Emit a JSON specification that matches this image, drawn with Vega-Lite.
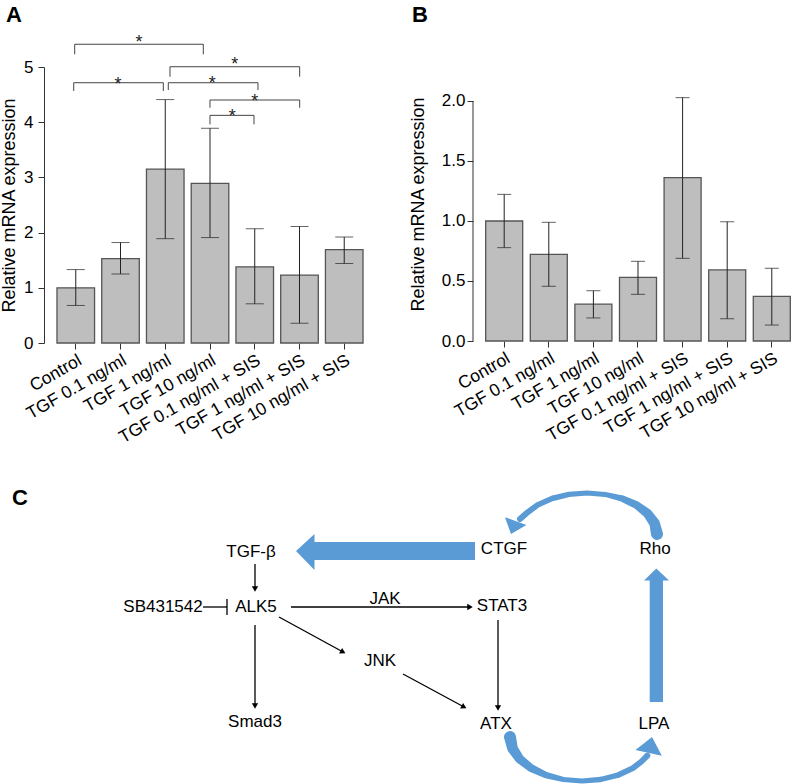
{
  "$schema": "https://vega.github.io/schema/vega-lite/v6.json",
  "padding": {"left": 0, "top": 3, "right": 0, "bottom": 0},
  "background": "white",
  "config": {
    "font": "Liberation Sans",
    "view": {"stroke": null},
    "axis": {"labelColor": "#000", "titleColor": "#000", "domainColor": "#333", "tickColor": "#333", "grid": false, "titleFontWeight": "normal", "labelFont": "Liberation Sans", "titleFont": "Liberation Sans"}
  },
  "datasets": {
    "a": [
      {"c": "Control", "m": 1.0, "lo": 0.68, "hi": 1.33},
      {"c": "TGF 0.1 ng/ml", "m": 1.53, "lo": 1.25, "hi": 1.82},
      {"c": "TGF 1 ng/ml", "m": 3.15, "lo": 1.89, "hi": 4.41},
      {"c": "TGF 10 ng/ml", "m": 2.89, "lo": 1.91, "hi": 3.89},
      {"c": "TGF 0.1 ng/ml + SIS", "m": 1.38, "lo": 0.71, "hi": 2.07},
      {"c": "TGF 1 ng/ml + SIS", "m": 1.23, "lo": 0.36, "hi": 2.11},
      {"c": "TGF 10 ng/ml + SIS", "m": 1.69, "lo": 1.44, "hi": 1.92}
    ],
    "b": [
      {"c": "Control", "m": 1.0, "lo": 0.778, "hi": 1.222},
      {"c": "TGF 0.1 ng/ml", "m": 0.722, "lo": 0.456, "hi": 0.989},
      {"c": "TGF 1 ng/ml", "m": 0.308, "lo": 0.192, "hi": 0.419},
      {"c": "TGF 10 ng/ml", "m": 0.531, "lo": 0.389, "hi": 0.664},
      {"c": "TGF 0.1 ng/ml + SIS", "m": 1.361, "lo": 0.689, "hi": 2.028},
      {"c": "TGF 1 ng/ml + SIS", "m": 0.592, "lo": 0.186, "hi": 0.994},
      {"c": "TGF 10 ng/ml + SIS", "m": 0.372, "lo": 0.133, "hi": 0.606}
    ],
    "brk": [
      {"x1": 0.976, "x2": 3.851, "y": 5.412, "leg": 5.23, "sx": 2.413, "sy": 5.52},
      {"x1": 0.954, "x2": 2.957, "y": 4.715, "leg": 4.565, "sx": 1.944, "sy": 4.764},
      {"x1": 3.068, "x2": 5.073, "y": 4.715, "leg": 4.583, "sx": 4.052, "sy": 4.777},
      {"x1": 3.106, "x2": 6.005, "y": 5.005, "leg": 4.824, "sx": 4.552, "sy": 5.122},
      {"x1": 4.0, "x2": 6.005, "y": 4.402, "leg": 4.262, "sx": 4.999, "sy": 4.461},
      {"x1": 4.0, "x2": 4.984, "y": 4.124, "leg": 3.961, "sx": 4.499, "sy": 4.189}
    ],
    "cText": [
      {"t": "TGF-β", "x": 252, "y": 550},
      {"t": "CTGF", "x": 505, "y": 547},
      {"t": "Rho", "x": 656, "y": 547},
      {"t": "SB431542", "x": 164, "y": 605},
      {"t": "ALK5", "x": 257, "y": 605},
      {"t": "JAK", "x": 386, "y": 597},
      {"t": "STAT3", "x": 503, "y": 604},
      {"t": "JNK", "x": 381, "y": 659},
      {"t": "Smad3", "x": 256, "y": 720},
      {"t": "ATX", "x": 497, "y": 722},
      {"t": "LPA", "x": 655, "y": 722}
    ],
    "cLines": [
      {"x": 256, "y": 562, "x2": 256, "y2": 588},
      {"x": 292, "y": 605, "x2": 472, "y2": 605},
      {"x": 280, "y": 615, "x2": 345, "y2": 650.5},
      {"x": 404, "y": 672, "x2": 466, "y2": 705.5},
      {"x": 256, "y": 623, "x2": 256, "y2": 705},
      {"x": 499, "y": 618, "x2": 499, "y2": 707},
      {"x": 204, "y": 605, "x2": 228, "y2": 605},
      {"x": 228, "y": 597, "x2": 228, "y2": 613}
    ],
    "cHeads": [
      {"x": 256, "y": 587, "a": 180},
      {"x": 471, "y": 605, "a": 90},
      {"x": 344, "y": 650, "a": 119},
      {"x": 465, "y": 705, "a": 118},
      {"x": 256, "y": 704, "a": 180},
      {"x": 499, "y": 706, "a": 180}
    ],
    "cRects": [
      {"x": 315, "x2": 476, "y": 540, "y2": 558},
      {"x": 650.7, "x2": 664, "y": 578, "y2": 700}
    ],
    "cHeadL": [
      {"x": 297, "y": 549, "y2": 549},
      {"x": 315.5, "y": 532, "y2": 568}
    ],
    "cHeadU": [
      {"y": 566.5, "x": 657.3, "x2": 657.3},
      {"y": 578.5, "x": 645, "x2": 670}
    ],
    "cArcs": [
      {"arc": "top", "t": 0, "x": 658.0, "y": 532.0},
      {"arc": "top", "t": 0.1, "x": 655.6, "y": 521.4},
      {"arc": "top", "t": 0.2, "x": 648.6, "y": 511.5},
      {"arc": "top", "t": 0.3, "x": 637.5, "y": 503.0},
      {"arc": "top", "t": 0.4, "x": 623.0, "y": 496.5},
      {"arc": "top", "t": 0.5, "x": 606.1, "y": 492.4},
      {"arc": "top", "t": 0.59, "x": 588.0, "y": 491.0},
      {"arc": "top", "t": 0.68, "x": 569.9, "y": 492.4},
      {"arc": "top", "t": 0.78, "x": 553.0, "y": 496.5},
      {"arc": "top", "t": 0.87, "x": 538.5, "y": 503.0},
      {"arc": "top", "t": 0.94, "x": 528.6, "y": 510.3},
      {"arc": "top", "t": 1.0, "x": 521.0, "y": 517.0},
      {"arc": "bot", "t": 0, "x": 511.0, "y": 735.0},
      {"arc": "bot", "t": 0.1, "x": 513.5, "y": 746.4},
      {"arc": "bot", "t": 0.2, "x": 520.6, "y": 757.0},
      {"arc": "bot", "t": 0.3, "x": 532.1, "y": 766.1},
      {"arc": "bot", "t": 0.4, "x": 547.0, "y": 773.1},
      {"arc": "bot", "t": 0.5, "x": 564.4, "y": 777.5},
      {"arc": "bot", "t": 0.6, "x": 583.0, "y": 779.0},
      {"arc": "bot", "t": 0.7, "x": 601.6, "y": 777.5},
      {"arc": "bot", "t": 0.8, "x": 619.0, "y": 773.1},
      {"arc": "bot", "t": 0.9, "x": 633.9, "y": 766.1},
      {"arc": "bot", "t": 0.96, "x": 642.5, "y": 759.5},
      {"arc": "bot", "t": 1.0, "x": 648.3, "y": 753.6}
    ],
    "cArcHeads": [
      {"arc": "top", "x": 515.9, "y": 521.3, "a": 200},
      {"arc": "bot", "x": 650.2, "y": 748.2, "a": 12}
    ]
  },
  "vconcat": [
    {
      "hconcat": [
        {
          "width": 332,
          "height": 276,
          "layer": [
            {
              "data": {"name": "a"},
              "layer": [
                {
                  "mark": {"type": "bar", "fill": "#bebebe", "stroke": "#555", "strokeWidth": 1.3},
                  "encoding": {
                    "x": {"field": "c", "type": "nominal", "sort": null, "scale": {"paddingInner": 0.16, "paddingOuter": 0.29},
                      "axis": {"title": null, "domain": false, "labelAngle": -30, "labelFontSize": 17.5, "tickSize": 6, "labelPadding": 2}},
                    "y": {"field": "m", "type": "quantitative", "scale": {"domain": [0, 5], "nice": false}, "title": "Relative mRNA expression",
                      "axis": {"values": [0, 1, 2, 3, 4, 5], "tickSize": 6, "labelFontSize": 17, "titleFontSize": 18, "labelPadding": 5, "titlePadding": 5}}
                  }
                },
                {
                  "mark": {"type": "rule", "color": "#222", "strokeWidth": 1},
                  "encoding": {
                    "x": {"field": "c", "type": "nominal", "sort": null},
                    "y": {"field": "lo", "type": "quantitative", "scale": {"domain": [0, 5], "nice": false}, "title": "Relative mRNA expression"},
                    "y2": {"field": "hi"}
                  }
                },
                {
                  "mark": {"type": "tick", "color": "#222", "thickness": 1, "size": 18},
                  "encoding": {
                    "x": {"field": "c", "type": "nominal", "sort": null},
                    "y": {"field": "lo", "type": "quantitative", "scale": {"domain": [0, 5], "nice": false}, "title": "Relative mRNA expression"}
                  }
                },
                {
                  "mark": {"type": "tick", "color": "#222", "thickness": 1, "size": 18},
                  "encoding": {
                    "x": {"field": "c", "type": "nominal", "sort": null},
                    "y": {"field": "hi", "type": "quantitative", "scale": {"domain": [0, 5], "nice": false}, "title": "Relative mRNA expression"}
                  }
                }
              ]
            },
            {
              "layer": [
                {
                  "data": {"name": "brk"},
                  "mark": {"type": "rule", "color": "#444", "strokeWidth": 1},
                  "encoding": {
                    "x": {"field": "x1", "type": "quantitative", "scale": {"domain": [0.29, 7.711], "nice": false, "zero": false}, "axis": null},
                    "x2": {"field": "x2"},
                    "y": {"field": "y", "type": "quantitative", "scale": {"domain": [0, 5], "nice": false}, "title": "Relative mRNA expression"}
                  }
                },
                {
                  "data": {"name": "brk"},
                  "mark": {"type": "rule", "color": "#444", "strokeWidth": 1},
                  "encoding": {
                    "x": {"field": "x1", "type": "quantitative", "scale": {"domain": [0.29, 7.711], "nice": false, "zero": false}, "axis": null},
                    "y": {"field": "leg", "type": "quantitative", "scale": {"domain": [0, 5], "nice": false}, "title": "Relative mRNA expression"},
                    "y2": {"field": "y"}
                  }
                },
                {
                  "data": {"name": "brk"},
                  "mark": {"type": "rule", "color": "#444", "strokeWidth": 1},
                  "encoding": {
                    "x": {"field": "x2", "type": "quantitative", "scale": {"domain": [0.29, 7.711], "nice": false, "zero": false}, "axis": null},
                    "y": {"field": "leg", "type": "quantitative", "scale": {"domain": [0, 5], "nice": false}, "title": "Relative mRNA expression"},
                    "y2": {"field": "y"}
                  }
                },
                {
                  "data": {"name": "brk"},
                  "mark": {"type": "text", "text": "*", "fontSize": 18, "baseline": "alphabetic", "dy": 10, "color": "#222"},
                  "encoding": {
                    "x": {"field": "sx", "type": "quantitative", "scale": {"domain": [0.29, 7.711], "nice": false, "zero": false}, "axis": null},
                    "y": {"field": "sy", "type": "quantitative", "scale": {"domain": [0, 5], "nice": false}, "title": "Relative mRNA expression"}
                  }
                },
                {
                  "data": {"values": [{"t": "A", "x": -0.559, "y": 5.82}]},
                  "mark": {"type": "text", "fontSize": 22, "fontWeight": "bold", "align": "left", "baseline": "alphabetic", "color": "#000"},
                  "encoding": {
                    "text": {"field": "t"},
                    "x": {"field": "x", "type": "quantitative", "scale": {"domain": [0.29, 7.711], "nice": false, "zero": false}, "axis": null},
                    "y": {"field": "y", "type": "quantitative", "scale": {"domain": [0, 5], "nice": false}, "title": "Relative mRNA expression"}
                  }
                }
              ]
            }
          ],
          "resolve": {"scale": {"x": "independent"}}
        },
        {
          "width": 318,
          "height": 274,
          "layer": [
            {
              "data": {"name": "b"},
              "layer": [
                {
                  "mark": {"type": "bar", "fill": "#bebebe", "stroke": "#555", "strokeWidth": 1.3},
                  "encoding": {
                    "x": {"field": "c", "type": "nominal", "sort": null, "scale": {"paddingInner": 0.17, "paddingOuter": 0.15, "align": 0.948},
                      "axis": {"title": null, "domain": false, "labelAngle": -30, "labelFontSize": 17.5, "tickSize": 6, "labelPadding": 2}},
                    "y": {"field": "m", "type": "quantitative", "scale": {"domain": [0, 2.2833], "nice": false}, "title": "Relative mRNA expression",
                      "axis": {"values": [0, 0.5, 1, 1.5, 2], "format": ".1f", "domain": false, "tickSize": 6, "labelFontSize": 17, "titleFontSize": 18, "labelPadding": 2, "titlePadding": 14}}
                  }
                },
                {
                  "mark": {"type": "rule", "color": "#222", "strokeWidth": 1},
                  "encoding": {
                    "x": {"field": "c", "type": "nominal", "sort": null},
                    "y": {"field": "lo", "type": "quantitative", "scale": {"domain": [0, 2.2833], "nice": false}, "title": "Relative mRNA expression"},
                    "y2": {"field": "hi"}
                  }
                },
                {
                  "mark": {"type": "tick", "color": "#222", "thickness": 1, "size": 14},
                  "encoding": {
                    "x": {"field": "c", "type": "nominal", "sort": null},
                    "y": {"field": "lo", "type": "quantitative", "scale": {"domain": [0, 2.2833], "nice": false}, "title": "Relative mRNA expression"}
                  }
                },
                {
                  "mark": {"type": "tick", "color": "#222", "thickness": 1, "size": 14},
                  "encoding": {
                    "x": {"field": "c", "type": "nominal", "sort": null},
                    "y": {"field": "hi", "type": "quantitative", "scale": {"domain": [0, 2.2833], "nice": false}, "title": "Relative mRNA expression"}
                  }
                }
              ]
            },
            {
              "layer": [
                {
                  "data": {"values": [{"x": 0, "y0": 0, "y1": 2}]},
                  "mark": {"type": "rule", "color": "#333", "strokeWidth": 1},
                  "encoding": {
                    "x": {"field": "x", "type": "quantitative", "scale": {"domain": [0, 1], "nice": false, "zero": false}, "axis": null},
                    "y": {"field": "y0", "type": "quantitative", "scale": {"domain": [0, 2.2833], "nice": false}, "title": "Relative mRNA expression"},
                    "y2": {"field": "y1"}
                  }
                },
                {
                  "data": {"values": [{"t": "B", "x": -0.192, "y": 2.661}]},
                  "mark": {"type": "text", "fontSize": 22, "fontWeight": "bold", "align": "left", "baseline": "alphabetic", "color": "#000"},
                  "encoding": {
                    "text": {"field": "t"},
                    "x": {"field": "x", "type": "quantitative", "scale": {"domain": [0, 1], "nice": false, "zero": false}, "axis": null},
                    "y": {"field": "y", "type": "quantitative", "scale": {"domain": [0, 2.2833], "nice": false}, "title": "Relative mRNA expression"}
                  }
                }
              ]
            }
          ],
          "resolve": {"scale": {"x": "independent"}}
        }
      ],
      "spacing": 33
    },
    {
      "width": 752,
      "height": 314,
      "layer": [
        {
          "data": {"name": "cRects"},
          "mark": {"type": "rect", "color": "#5b9bd5"},
          "encoding": {
            "x": {"field": "x", "type": "quantitative", "scale": {"domain": [45, 797], "nice": false, "zero": false}, "axis": null},
            "x2": {"field": "x2"},
            "y": {"field": "y", "type": "quantitative", "scale": {"domain": [470, 784], "nice": false, "zero": false, "reverse": true}, "axis": null},
            "y2": {"field": "y2"}
          }
        },
        {
          "data": {"name": "cHeadL"},
          "mark": {"type": "area", "color": "#5b9bd5", "orient": "vertical"},
          "encoding": {
            "x": {"field": "x", "type": "quantitative", "scale": {"domain": [45, 797], "nice": false, "zero": false}, "axis": null},
            "y": {"field": "y", "type": "quantitative", "scale": {"domain": [470, 784], "nice": false, "zero": false, "reverse": true}, "axis": null},
            "y2": {"field": "y2"}
          }
        },
        {
          "data": {"name": "cHeadU"},
          "mark": {"type": "area", "color": "#5b9bd5", "orient": "horizontal"},
          "encoding": {
            "y": {"field": "y", "type": "quantitative", "scale": {"domain": [470, 784], "nice": false, "zero": false, "reverse": true}, "axis": null},
            "x": {"field": "x", "type": "quantitative", "scale": {"domain": [45, 797], "nice": false, "zero": false}, "axis": null},
            "x2": {"field": "x2"}
          }
        },
        {
          "data": {"name": "cArcs"},
          "mark": {"type": "trail", "color": "#5b9bd5"},
          "encoding": {
            "x": {"field": "x", "type": "quantitative", "scale": {"domain": [45, 797], "nice": false, "zero": false}, "axis": null},
            "y": {"field": "y", "type": "quantitative", "scale": {"domain": [470, 784], "nice": false, "zero": false, "reverse": true}, "axis": null},
            "detail": {"field": "arc"},
            "order": {"field": "t"},
            "size": {"field": "t", "type": "quantitative", "scale": {"domain": [0, 0.5, 1], "range": [12, 5, 6]}, "legend": null}
          }
        },
        {
          "data": {"name": "cArcHeads"},
          "transform": [{"filter": "datum.arc === 'top'"}],
          "mark": {"type": "point", "filled": true, "shape": "M0,-1L1,0.2L-1,0.2Z", "size": 520, "color": "#5b9bd5", "opacity": 1},
          "encoding": {
            "x": {"field": "x", "type": "quantitative", "scale": {"domain": [45, 797], "nice": false, "zero": false}, "axis": null},
            "y": {"field": "y", "type": "quantitative", "scale": {"domain": [470, 784], "nice": false, "zero": false, "reverse": true}, "axis": null},
            "angle": {"field": "a", "type": "quantitative", "scale": null}
          }
        },
        {
          "data": {"name": "cArcHeads"},
          "transform": [{"filter": "datum.arc === 'bot'"}],
          "mark": {"type": "point", "filled": true, "shape": "M0,-1L1,0.2L-1,0.2Z", "size": 729, "color": "#5b9bd5", "opacity": 1},
          "encoding": {
            "x": {"field": "x", "type": "quantitative", "scale": {"domain": [45, 797], "nice": false, "zero": false}, "axis": null},
            "y": {"field": "y", "type": "quantitative", "scale": {"domain": [470, 784], "nice": false, "zero": false, "reverse": true}, "axis": null},
            "angle": {"field": "a", "type": "quantitative", "scale": null}
          }
        },
        {
          "data": {"name": "cLines"},
          "mark": {"type": "rule", "color": "#000", "strokeWidth": 1.3},
          "encoding": {
            "x": {"field": "x", "type": "quantitative", "scale": {"domain": [45, 797], "nice": false, "zero": false}, "axis": null},
            "x2": {"field": "x2"},
            "y": {"field": "y", "type": "quantitative", "scale": {"domain": [470, 784], "nice": false, "zero": false, "reverse": true}, "axis": null},
            "y2": {"field": "y2"}
          }
        },
        {
          "data": {"name": "cHeads"},
          "mark": {"type": "point", "filled": true, "shape": "triangle-up", "size": 40, "color": "#000", "opacity": 1},
          "encoding": {
            "x": {"field": "x", "type": "quantitative", "scale": {"domain": [45, 797], "nice": false, "zero": false}, "axis": null},
            "y": {"field": "y", "type": "quantitative", "scale": {"domain": [470, 784], "nice": false, "zero": false, "reverse": true}, "axis": null},
            "angle": {"field": "a", "type": "quantitative", "scale": null}
          }
        },
        {
          "data": {"name": "cText"},
          "mark": {"type": "text", "fontSize": 17, "baseline": "middle", "align": "center", "color": "#000"},
          "encoding": {
            "text": {"field": "t"},
            "x": {"field": "x", "type": "quantitative", "scale": {"domain": [45, 797], "nice": false, "zero": false}, "axis": null},
            "y": {"field": "y", "type": "quantitative", "scale": {"domain": [470, 784], "nice": false, "zero": false, "reverse": true}, "axis": null}
          }
        },
        {
          "data": {"values": [{"t": "C", "x": 13, "y": 503}]},
          "mark": {"type": "text", "fontSize": 22, "fontWeight": "bold", "baseline": "alphabetic", "align": "left", "color": "#000"},
          "encoding": {
            "text": {"field": "t"},
            "x": {"field": "x", "type": "quantitative", "scale": {"domain": [45, 797], "nice": false, "zero": false}, "axis": null},
            "y": {"field": "y", "type": "quantitative", "scale": {"domain": [470, 784], "nice": false, "zero": false, "reverse": true}, "axis": null}
          }
        }
      ]
    }
  ],
  "spacing": 25
}
